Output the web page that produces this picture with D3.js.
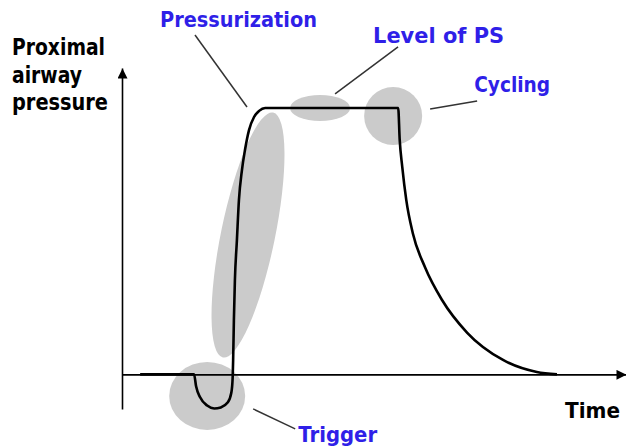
<!DOCTYPE html>
<html>
<head>
<meta charset="utf-8">
<script src="https://cdn.jsdelivr.net/npm/d3@7"></script>
<style>
  html, body { margin: 0; padding: 0; background: #fff; }
  svg { display: block; }
  .lbl { font-family: "Comic Sans MS", "DejaVu Sans", sans-serif; font-weight: bold; }
</style>
</head>
<body>
<div id="chart"></div>
<script>
// pressure support waveform (arbitrary units)
const time = [3.6, 14.3, 14.7, 15.5, 16.9, 18.3, 19.6, 21.0, 21.7, 21.95, 22.05, 22.2, 22.4, 22.8,
  23.2, 23.8, 24.4, 25.2, 26.2, 27.2, 28.4, 54.8, 55.1, 55.6, 56.4, 57.7, 60.1, 63.5, 68.5,
  75.6, 82.3, 86.3];
const pressure = [0, 0, -0.45, -0.86, -1.17, -1.28, -1.24, -1.05, -0.68, -0.15, 0.53, 2.03, 3.53,
  5.04, 6.54, 7.67, 8.42, 9.17, 9.66, 9.89, 10, 10, 8.8, 7.8, 6.55, 5.3, 4.03, 2.79, 1.56,
  0.54, 0.09, 0];

// axis extents
const timeExtent = [0, 100];
const pressureExtent = [-1.3, 11.5];

// annotated phases and where they sit on the waveform
const phases = ['Pressurization', 'Level of PS', 'Cycling', 'Trigger'];
const phaseTime = [25.0, 39.3, 53.8, 16.9];
const phasePressure = [5.23, 10.0, 9.7, -0.81];

const yTitle = ['Proximal', 'airway', 'pressure'];
const xTitle = 'Time';

const width = 626;
const height = 447;

// highlight shape + leader + label offsets (px, from the highlight centre)
const layout = {
  'Pressurization': {rx: 27, ry: 125, rot: 11.6, line: [-1, -128, -53, -200], tx: -88, ty: -208, len: 157},
  'Level of PS': {rx: 30, ry: 13, rot: 0, line: [15, -14, 78, -61], tx: 53, ty: -65, len: 131},
  'Cycling': {rx: 29, ry: 29, rot: 0, line: [37, -7, 84, -15], tx: 81, ty: -24, len: 76},
  'Trigger': {rx: 38, ry: 34, rot: 0, line: [46, 13, 88, 33], tx: 91, ty: 46, len: 79}
};

const svg = d3.select('#chart').append('svg')
  .attr('width', width)
  .attr('height', height);

const x = d3.scaleLinear().domain(timeExtent).range([122, 626]);
const y = d3.scaleLinear().domain(pressureExtent).range([409, 68]);

svg.append('defs').append('marker')
  .attr('id', 'arrow')
  .attr('viewBox', '0 0 10 10')
  .attr('refX', 10)
  .attr('refY', 5)
  .attr('markerUnits', 'userSpaceOnUse')
  .attr('markerWidth', 11)
  .attr('markerHeight', 10)
  .attr('orient', 'auto')
  .append('path')
  .attr('d', 'M0,0L10,5L0,10Z')
  .attr('fill', '#000');

const notes = phases.map((name, i) => ({
  name: name,
  cx: x(phaseTime[i]),
  cy: y(phasePressure[i]),
  ...layout[name]
}));

// grey highlights behind everything
svg.append('g').selectAll('ellipse')
  .data(notes)
  .enter().append('ellipse')
  .attr('transform', d => `translate(${d.cx},${d.cy}) rotate(${d.rot})`)
  .attr('rx', d => d.rx)
  .attr('ry', d => d.ry)
  .attr('fill', '#cbcbcb');

// axes, no ticks
const xAxis = svg.append('g')
  .attr('transform', `translate(0,${y(0)})`)
  .call(d3.axisBottom(x).tickValues([]).tickSizeOuter(0));
const yAxis = svg.append('g')
  .attr('transform', `translate(${x(0)},0)`)
  .call(d3.axisLeft(y).tickValues([]).tickSizeOuter(0));
[xAxis, yAxis].forEach(g => g.select('.domain')
  .attr('stroke', '#000')
  .attr('stroke-width', 1.6)
  .attr('marker-end', 'url(#arrow)'));

// waveform
const line = d3.line()
  .x((d, i) => x(time[i]))
  .y((d, i) => y(pressure[i]))
  .curve(d3.curveMonotoneX);

svg.append('path')
  .datum(pressure)
  .attr('d', line)
  .attr('fill', 'none')
  .attr('stroke', '#000')
  .attr('stroke-width', 2.6)
  .attr('stroke-linejoin', 'round');

// leader lines
svg.append('g').selectAll('line')
  .data(notes)
  .enter().append('line')
  .attr('x1', d => d.cx + d.line[0])
  .attr('y1', d => d.cy + d.line[1])
  .attr('x2', d => d.cx + d.line[2])
  .attr('y2', d => d.cy + d.line[3])
  .attr('stroke', '#333')
  .attr('stroke-width', 1.5);

svg.append('g').selectAll('text')
  .data(notes)
  .enter().append('text')
  .attr('class', 'lbl')
  .attr('x', d => d.cx + d.tx)
  .attr('y', d => d.cy + d.ty)
  .attr('textLength', d => d.len)
  .attr('lengthAdjust', 'spacingAndGlyphs')
  .attr('font-size', 21)
  .attr('fill', '#2f1fe8')
  .text(d => d.name);

// axis titles
const yTitleLen = [93, 70, 96];
svg.append('g').selectAll('text')
  .data(yTitle)
  .enter().append('text')
  .attr('class', 'lbl')
  .attr('x', 12)
  .attr('y', (d, i) => 55 + i * 27.5)
  .attr('textLength', (d, i) => yTitleLen[i])
  .attr('lengthAdjust', 'spacingAndGlyphs')
  .attr('font-size', 22.5)
  .attr('fill', '#000')
  .text(d => d);

svg.append('text')
  .attr('class', 'lbl')
  .attr('x', 565)
  .attr('y', 418)
  .attr('textLength', 55)
  .attr('lengthAdjust', 'spacingAndGlyphs')
  .attr('font-size', 21)
  .attr('fill', '#000')
  .text(xTitle);
</script>
</body>
</html>
